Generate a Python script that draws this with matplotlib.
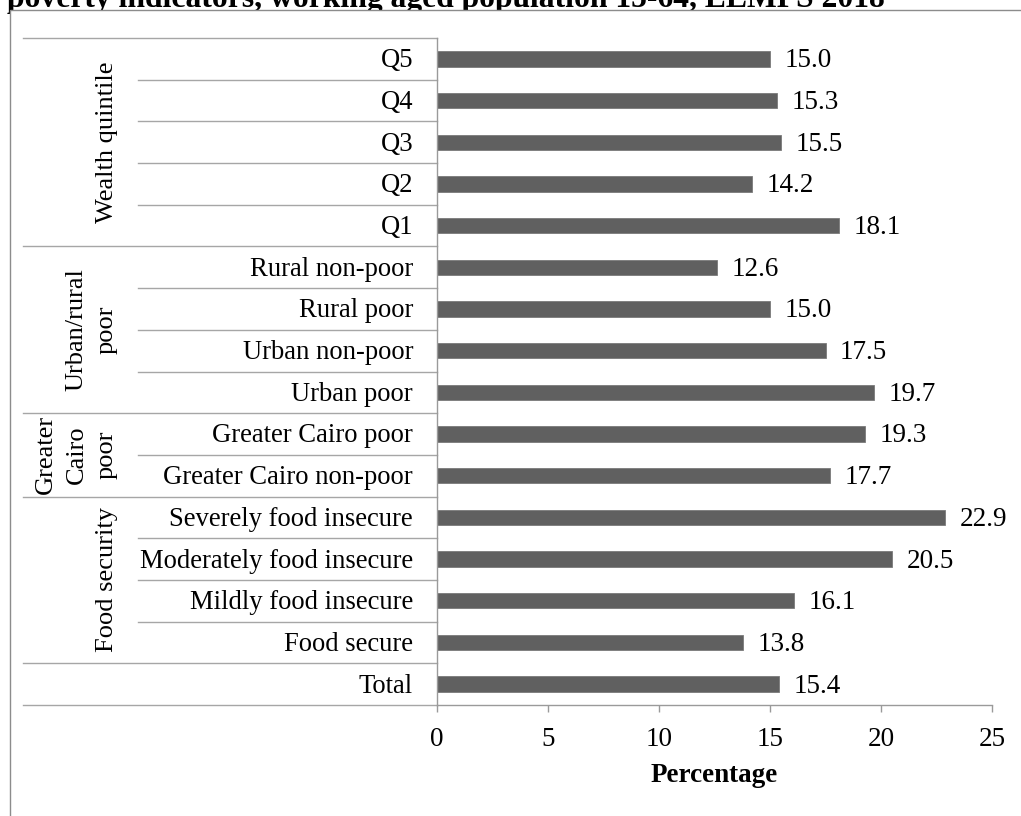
import matplotlib
matplotlib.use("Agg")
import matplotlib.pyplot as plt
from matplotlib.patches import Rectangle
from matplotlib.transforms import blended_transform_factory, ScaledTranslation

plt.rcParams['font.family'] = ['Liberation Serif', 'DejaVu Serif']

# Rows listed top to bottom
categories = [
    "Q5", "Q4", "Q3", "Q2", "Q1",
    "Rural non-poor", "Rural poor", "Urban non-poor", "Urban poor",
    "Greater Cairo poor", "Greater Cairo non-poor",
    "Severely food insecure", "Moderately food insecure",
    "Mildly food insecure", "Food secure",
    "Total",
]
values = [15.0, 15.3, 15.5, 14.2, 18.1,
          12.6, 15.0, 17.5, 19.7,
          19.3, 17.7,
          22.9, 20.5, 16.1, 13.8,
          15.4]
group_names = ["Wealth quintile", "Urban/rural\npoor", "Greater\nCairo\npoor",
               "Food security", ""]
group_sizes = [5, 4, 2, 4, 1]
xticks = [0, 5, 10, 15, 20, 25]
title = "poverty indicators, working aged population 15-64, ELMPS 2018"

W, H = 1021, 816
fig = plt.figure(figsize=(W / 100, H / 100), dpi=100)

# Title sits behind the chart frame, which overlaps its lower part
fig.text(7 / W, 1 - 6.5 / H, title, ha='left', va='baseline',
         fontsize=22.8, fontweight='bold', color='black', zorder=1)
fig.add_artist(Rectangle((9.5 / W, -0.2), 2.0, 1.2 - 9.5 / H,
                         transform=fig.transFigure, facecolor='white',
                         edgecolor='#8c8c8c', linewidth=1.0, zorder=2))

ax_left, ax_right, ax_top, ax_bottom = 437, 992, 38, 705
ax = fig.add_axes([ax_left / W, 1 - ax_bottom / H,
                   (ax_right - ax_left) / W, (ax_bottom - ax_top) / H])
ax.set_zorder(3)
ax.set_facecolor('none')

n = len(categories)
ypos = [n - 1 - i for i in range(n)]
bars = ax.barh(ypos, values, height=0.37, color='#606060',
               edgecolor='#7a7a7a', linewidth=0.6)
value_labels = ax.bar_label(bars, labels=[f"{v:.1f}" for v in values],
                            padding=10.5, fontsize=19.5)
for lab in value_labels:
    lab.xyann = (10.5, -1.4)

ax.set_xlim(0, 25)
ax.set_ylim(-0.5, n - 0.5)
ax.set_xticks(xticks)
ax.set_xticklabels([str(t) for t in xticks], fontsize=19.5)
ax.set_yticks([])
ax.tick_params(axis='x', direction='out', length=5, width=1,
               color='#9a9a9a', pad=11)
for s in ('top', 'right'):
    ax.spines[s].set_visible(False)
for s in ('left', 'bottom'):
    ax.spines[s].set_color('#9a9a9a')
    ax.spines[s].set_linewidth(1.0)

ax.set_xlabel("Percentage", fontsize=19.5, fontweight='bold', va='center')
ax.xaxis.set_label_coords(0.5, -(775 - ax_bottom) / (ax_bottom - ax_top))

# Category table to the left of the axis
span = ax_right - ax_left
x_outer = (23 - ax_left) / span
x_inner = (138 - ax_left) / span
x_label = (413 - ax_left) / span
x_group = (118 - ax_left) / span
trans = blended_transform_factory(ax.transAxes, ax.transData)
label_trans = trans + ScaledTranslation(0, -1.4 / 72, fig.dpi_scale_trans)

for y, cat in zip(ypos, categories):
    ax.text(x_label, y, cat, transform=label_trans, ha='right', va='center',
            fontsize=19.2, clip_on=False)

line_kw = dict(color='#a6a6a6', linewidth=1.0, transform=trans, clip_on=False)
ax.plot([x_outer, 0], [n - 0.5, n - 0.5], **line_kw)
row = 0
for name, size in zip(group_names, group_sizes):
    top = n - 0.5 - row
    bottom = top - size
    for k in range(1, size):
        yb = top - k
        ax.plot([x_inner, 0], [yb, yb], **line_kw)
    ax.plot([x_outer, 0], [bottom, bottom], **line_kw)
    if name:
        ax.text(x_group, (top + bottom) / 2, name, transform=trans,
                rotation=90, ha='right', va='center', ma='center',
                fontsize=19, linespacing=1.5, clip_on=False)
    row += size

fig.savefig("out.png", dpi=100)
